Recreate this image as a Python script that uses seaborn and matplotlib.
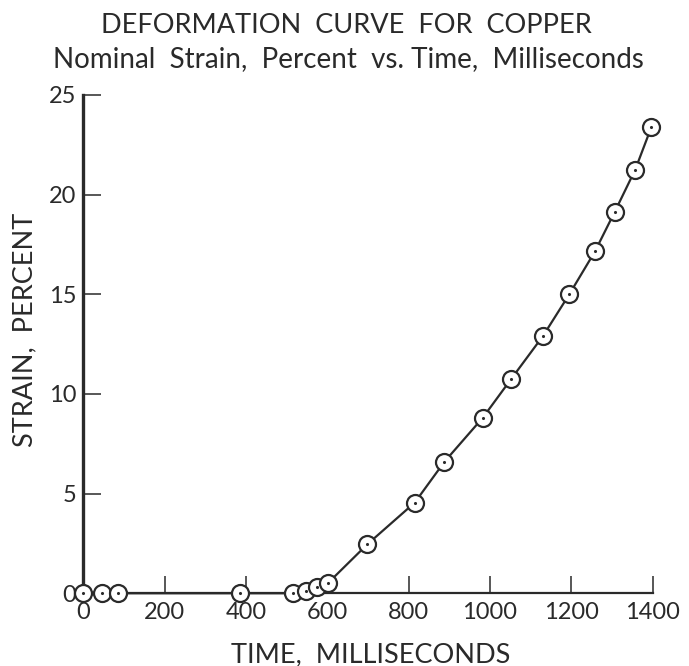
import matplotlib
matplotlib.use("Agg")
import matplotlib.pyplot as plt
import seaborn as sns
import pandas as pd

# Data
time_ms = [0, 45, 85, 385, 515, 548, 574, 601, 698, 815, 888, 982, 1052,
           1130, 1195, 1258, 1307, 1357, 1397]
strain_pct = [0.0, 0.0, 0.0, 0.0, 0.0, 0.1, 0.3, 0.5, 2.45, 4.55, 6.6, 8.8,
              10.75, 12.9, 15.0, 17.15, 19.15, 21.25, 23.4]
x_ticks = [0, 200, 400, 600, 800, 1000, 1200, 1400]
y_ticks = [0, 5, 10, 15, 20, 25]

df = pd.DataFrame({"time": time_ms, "strain": strain_pct})

sns.set_theme(style="white")
plt.rcParams["font.family"] = ["Lato", "DejaVu Sans"]
ink = "#2a2a2a"

fig = plt.figure(figsize=(6.89, 6.66), dpi=100)
ax = fig.add_axes([0.1209, 0.1092, 0.8264, 0.7482])

sns.lineplot(data=df, x="time", y="strain", ax=ax, color=ink, linewidth=1.6,
             zorder=2, clip_on=False)
sns.scatterplot(data=df, x="time", y="strain", ax=ax, marker="o", s=150,
                facecolor="white", edgecolor=ink, linewidth=1.6, zorder=3,
                clip_on=False)
sns.scatterplot(data=df, x="time", y="strain", ax=ax, marker="o", s=5,
                color=ink, linewidth=0, zorder=4, clip_on=False)

ax.set_xlim(0, 1400)
ax.set_ylim(0, 25)
ax.set_xticks(x_ticks)
ax.set_yticks(y_ticks)
ax.set_xticklabels([str(t) for t in x_ticks])
ax.set_yticklabels([str(t) for t in y_ticks])

for s in ["top", "right"]:
    ax.spines[s].set_visible(False)
ax.spines["left"].set_linewidth(2.4)
ax.spines["bottom"].set_linewidth(1.6)
ax.spines["left"].set_color(ink)
ax.spines["bottom"].set_color(ink)

ax.tick_params(axis="x", bottom=True, direction="in", length=12, width=1.1,
               color=ink, labelsize=17, labelcolor=ink, pad=6)
ax.tick_params(axis="y", left=True, direction="in", length=13, width=1.1,
               color=ink, labelsize=17, labelcolor=ink, pad=5)
ax.set_xlabel("")
ax.set_ylabel("")

fig.text(0.538, 0.006, "TIME,  MILLISECONDS", ha="center", va="baseline",
         fontsize=19.5, color=ink)
fig.text(0.036, 0.5045, "STRAIN,  PERCENT", ha="center", va="center",
         rotation=90, fontsize=19.5, color=ink)

fig.text(0.502, 0.9505, "DEFORMATION  CURVE  FOR  COPPER", ha="center",
         va="baseline", fontsize=19.5, color=ink)
fig.text(0.506, 0.899, "Nominal  Strain,  Percent  vs. Time,  Milliseconds",
         ha="center", va="baseline", fontsize=20, color=ink)

ax.grid(False)
fig.savefig("out.png", dpi=100)
